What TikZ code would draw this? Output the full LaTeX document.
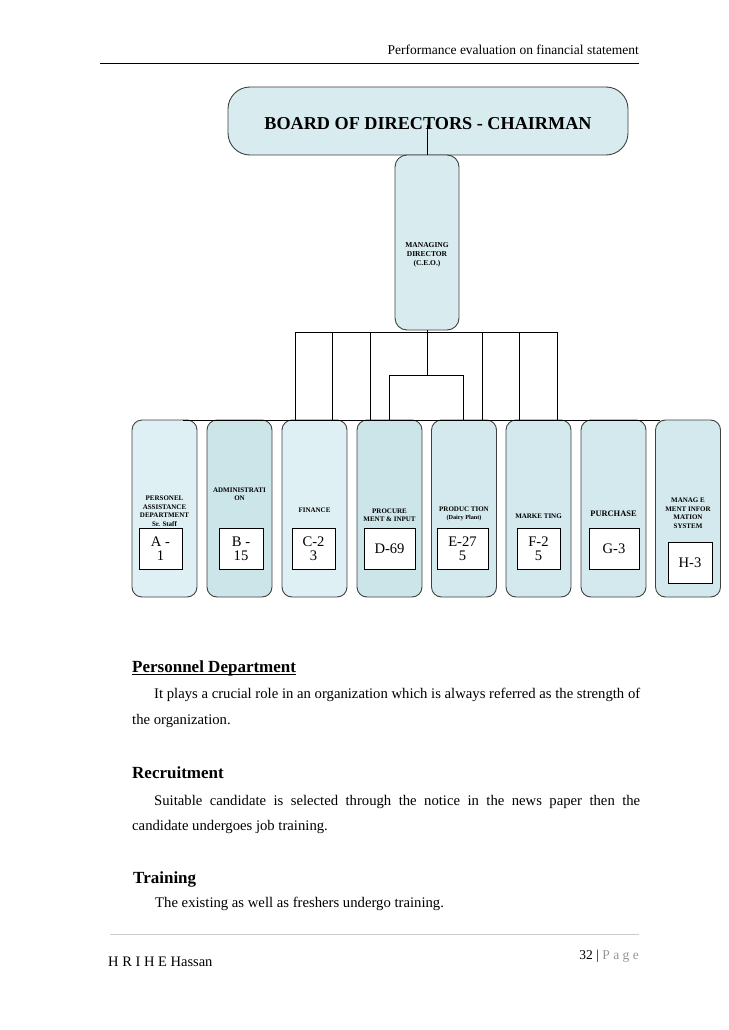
\documentclass[tikz,border=0pt]{standalone}
\usepackage{fontspec}
\setmainfont{Liberation Serif}
\definecolor{boardc}{RGB}{216,236,240}
\definecolor{lightc}{RGB}{222,240,243}
\definecolor{darkc}{RGB}{204,229,233}
\definecolor{midc}{RGB}{211,233,237}
\definecolor{pagegray}{RGB}{150,150,150}
\begin{document}
\begin{tikzpicture}[x=1pt,y=-1pt,
  shape box/.style={draw=black!75, line width=0.9pt, inner sep=0pt},
  deptbox/.style={shape box, rounded corners=10pt, minimum width=65pt, minimum height=177pt},
  codebox/.style={draw=black, line width=0.8pt, fill=white, minimum height=41pt, inner sep=0pt, align=center, font=\fontsize{14.6}{14}\selectfont},
  deptlbl/.style={inner sep=0pt, align=center, font=\fontsize{7}{8.5}\selectfont\bfseries},
  conn/.style={draw=black, line width=0.9pt},
  bodytxt/.style={inner sep=0pt, anchor=base west, font=\fontsize{14.7}{18}\selectfont},
  headtxt/.style={inner sep=0pt, anchor=base west, font=\fontsize{17}{20}\selectfont\bfseries}
]
\useasboundingbox (0,0) rectangle (728,1030);
\fill[white] (0,0) rectangle (728,1030);

% page header
\node[inner sep=0pt, anchor=base east, font=\fontsize{13.5}{16}\selectfont] (hdr) at (639,55) {Performance evaluation on financial statement};
\coordinate (hl) at (100,64);
\coordinate (hr) at (639,64);
\draw[line width=1pt] (hl) -- (hr);

% board and MD
\node[shape box, rounded corners=22pt, minimum width=400pt, minimum height=68pt, fill=boardc,
      font=\fontsize{18.2}{20}\selectfont\bfseries, text height=18pt, text depth=0pt] (board) at (428,121) {BOARD OF DIRECTORS - CHAIRMAN};
\node[shape box, rounded corners=12pt, minimum width=64pt, minimum height=175pt, fill=boardc] (md) at (427,242.5) {};
\node[inner sep=0pt, align=center, font=\fontsize{7.5}{9}\selectfont\bfseries] (mdt) at (427,255) {MANAGING\\DIRECTOR\\(C.E.O.)};

% departments
\node[deptbox, fill=lightc] (d1) at (164.5,508.5) {};
\node[deptbox, fill=darkc]  (d2) at (239.5,508.5) {};
\node[deptbox, fill=lightc] (d3) at (314.5,508.5) {};
\node[deptbox, fill=darkc]  (d4) at (389.5,508.5) {};
\node[deptbox, fill=midc]   (d5) at (464,508.5) {};
\node[deptbox, fill=midc]   (d6) at (538.5,508.5) {};
\node[deptbox, fill=midc]   (d7) at (613.5,508.5) {};
\node[deptbox, fill=midc]   (d8) at (688,508.5) {};

\node[deptlbl] (l1) at (164.5,511) {PERSONEL\\ASSISTANCE\\DEPARTMENT\\Sr. Staff};
\node[deptlbl] (l2) at (239.5,494) {ADMINISTRATI\\ON};
\node[deptlbl] (l3) at (314.5,510.5) {FINANCE};
\node[deptlbl] (l4) at (389.5,515) {PROCURE\\MENT \& INPUT};
\node[deptlbl] (l5) at (464,514) {PRODUC TION\\{\fontsize{6.2}{8}\selectfont(Dairy Plant)}};
\node[deptlbl] (l6) at (538.5,516.5) {MARKE TING};
\node[deptlbl, font=\fontsize{8.4}{10}\selectfont\bfseries] (l7) at (613.5,514) {PURCHASE};
\node[deptlbl] (l8) at (688,513) {MANAG E\\MENT INFOR\\MATION\\SYSTEM};

\node[codebox, minimum width=43pt] (c1) at (160.5,548.5) {A -\\1};
\node[codebox, minimum width=44pt] (c2) at (241,548.5) {B -\\15};
\node[codebox, minimum width=43pt] (c3) at (313.5,548.5) {C-2\\3};
\node[codebox, minimum width=51pt] (c4) at (389.5,548.5) {D-69};
\node[codebox, minimum width=51pt] (c5) at (462.5,548.5) {E-27\\5};
\node[codebox, minimum width=43pt] (c6) at (538.5,548.5) {F-2\\5};
\node[codebox, minimum width=50pt] (c7) at (614,548.5) {G-3};
\node[codebox, minimum width=44pt] (c8) at (690,563) {H-3};

% connectors
\coordinate (bdc) at (427,125);
\draw[conn] (bdc) -- (md.north);
\coordinate (mdb) at (427,332);
\coordinate (busL) at (295,332);
\coordinate (busR) at (557,332);
\coordinate (t2) at (332,332);
\coordinate (t3) at (370,332);
\coordinate (t6) at (482,332);
\coordinate (t7) at (519,332);
\coordinate (mid) at (427,375);
\coordinate (mL) at (389,375);
\coordinate (mR) at (463,375);
\coordinate (bbL) at (183,420);
\coordinate (bbR) at (660,420);
\draw[conn] (md.south) -- (mdb);
\draw[conn] (busL) -- (busR);
\draw[conn] (busL) -- (busL |- d3.north);
\draw[conn] (t2) -- (t2 |- d3.north);
\draw[conn] (t3) -- (t3 |- d4.north);
\draw[conn] (t6) -- (t6 |- d5.north);
\draw[conn] (t7) -- (t7 |- d6.north);
\draw[conn] (busR) -- (busR |- d6.north);
\draw[conn] (mdb) -- (mid);
\draw[conn] (mL) -- (mR);
\draw[conn] (mL) -- (mL |- d4.north);
\draw[conn] (mR) -- (mR |- d5.north);
\draw[conn] (bbL) -- (bbR);

% body text
\node[headtxt] (h1) at (132,672) {Personnel Department};
\draw[line width=1.1pt] ([yshift=-2.8pt]h1.base west) -- ([yshift=-2.8pt]h1.base east);
\node[bodytxt] (p1a) at (154,698) {\makebox[486pt][s]{It plays a crucial role in an organization which is always referred as the strength of}};
\node[bodytxt] (p1b) at (132,724) {the organization.};
\node[headtxt] (h2) at (132,778) {Recruitment};
\node[bodytxt] (p2a) at (154,805) {\makebox[486pt][s]{Suitable candidate is selected through the notice in the news paper then the}};
\node[bodytxt] (p2b) at (132,830) {candidate undergoes job training.};
\node[headtxt] (h3) at (133,883) {Training};
\node[bodytxt] (p3a) at (155,907) {The existing as well as freshers undergo training.};

% footer
\coordinate (fl) at (110,934);
\coordinate (fr) at (639,934);
\draw[line width=0.8pt, draw=black!20] (fl) -- (fr);
\node[inner sep=0pt, anchor=base east, font=\fontsize{13.5}{16}\selectfont] (pg) at (639,959) {32 | \textcolor{pagegray}{P a g e}};
\node[inner sep=0pt, anchor=base west, font=\fontsize{14.5}{16}\selectfont] (auth) at (108,966) {H R I H E Hassan};
\end{tikzpicture}
\end{document}
